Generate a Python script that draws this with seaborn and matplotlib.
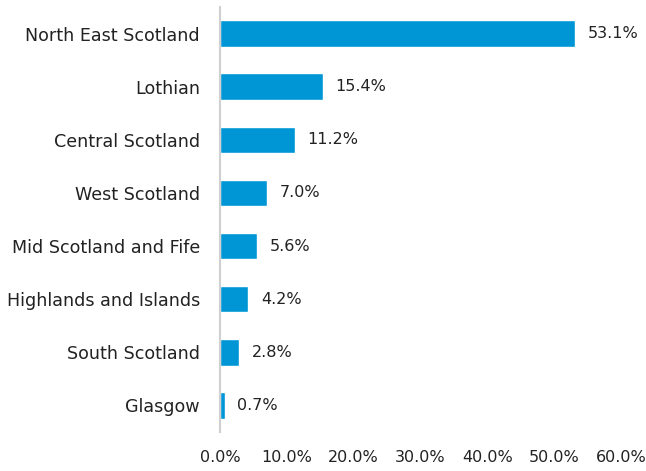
import matplotlib
matplotlib.use("Agg")
import matplotlib.pyplot as plt
import seaborn as sns
import pandas as pd

regions = ["North East Scotland", "Lothian", "Central Scotland", "West Scotland",
           "Mid Scotland and Fife", "Highlands and Islands", "South Scotland", "Glasgow"]
shares = [53.1, 15.4, 11.2, 7.0, 5.6, 4.2, 2.8, 0.7]
x_ticks = [0, 10, 20, 30, 40, 50, 60]

df = pd.DataFrame({"region": regions, "share": shares})

sns.set_theme(style="white")
plt.rcParams["font.family"] = ["DejaVu Sans"]

fig = plt.figure(figsize=(6.46, 4.71), dpi=100)
ax = fig.add_axes([220 / 646, 1 - 432 / 471, 401 / 646, 425 / 471])

sns.barplot(data=df, x="share", y="region", color="#0096D6", saturation=1,
            width=0.5, ax=ax)

for i, v in enumerate(shares):
    ax.text(v + 1.9, i, f"{v:.1f}%", va="center", ha="left", fontsize=11.5, color="#222222")

ax.set_xlim(0, 60)
ax.set_ylim(7.5, -0.5)
ax.set_xticks(x_ticks)
ax.set_xticklabels([f"{t:.1f}%" for t in x_ticks])
ax.set_xlabel("")
ax.set_ylabel("")
ax.tick_params(axis="both", length=0, colors="#222222")
ax.tick_params(axis="x", pad=13, labelsize=11.5)
ax.tick_params(axis="y", pad=14.5, labelsize=12.6)

for s in ["top", "right", "bottom"]:
    ax.spines[s].set_visible(False)
ax.spines["left"].set_color("#d0d0d0")
ax.spines["left"].set_linewidth(1.5)

fig.savefig("out.png", dpi=100)
